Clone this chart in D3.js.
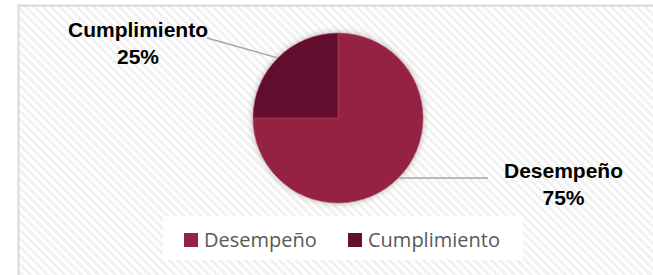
<!DOCTYPE html>
<html>
<head>
<meta charset="utf-8">
<script src="https://cdn.jsdelivr.net/npm/d3@7"></script>
<style>
  body { margin: 0; background: #fff; }
  svg { display: block; }
</style>
</head>
<body>
<script>
(function(){
  //chart data
  var categories = ["Desempeño", "Cumplimiento"];
  var values = [75, 25];
  var colors = ["#952343", "#630F2F"];

  var width = 653, height = 275;
  var cx = 338, cy = 118, radius = 85;

  var svg = d3.select("body").append("svg")
      .attr("width", width)
      .attr("height", height);

  var defs = svg.append("defs");

  //diagonal stripe background
  var pat = defs.append("pattern")
      .attr("id", "stripes")
      .attr("patternUnits", "userSpaceOnUse")
      .attr("width", 6)
      .attr("height", 6)
      .attr("patternTransform", "rotate(-45)");
  pat.append("rect").attr("width", 6).attr("height", 6).attr("fill", "#ffffff");
  pat.append("rect").attr("width", 3).attr("height", 6).attr("fill", "#f1f1f1");

  //soft shadow for the pie
  var shadow = defs.append("filter")
      .attr("id", "shadow")
      .attr("x", "-20%").attr("y", "-20%")
      .attr("width", "140%").attr("height", "140%");
  shadow.append("feGaussianBlur")
      .attr("in", "SourceAlpha")
      .attr("stdDeviation", 3)
      .attr("result", "blur");
  shadow.append("feComponentTransfer")
      .append("feFuncA").attr("type", "linear").attr("slope", 0.3);
  var merge = shadow.append("feMerge");
  merge.append("feMergeNode");
  merge.append("feMergeNode").attr("in", "SourceGraphic");

  //chart area frame
  svg.append("rect")
      .attr("x", 18.5).attr("y", 5.5)
      .attr("width", 700).attr("height", 300)
      .attr("fill", "url(#stripes)")
      .attr("stroke", "#d9d9d9")
      .attr("stroke-width", 2);

  var pie = d3.pie().sort(null).value(function(d){ return d; });
  var arcs = pie(values);

  var arc = d3.arc().innerRadius(0).outerRadius(radius);
  var edge = d3.arc().innerRadius(radius).outerRadius(radius);

  var g = svg.append("g")
      .attr("transform", "translate(" + cx + "," + cy + ")");

  g.append("g")
      .attr("filter", "url(#shadow)")
      .selectAll("path")
      .data(arcs)
      .enter()
      .append("path")
      .attr("d", arc)
      .attr("fill", function(d, i){ return colors[i]; })
      .attr("stroke", "#a8475f")
      .attr("stroke-width", 0.6);

  //leader line ends and label anchors (relative to pie centre)
  var labelPos = [
    {end: [150, 60], text: [225.5, 60]},
    {end: [-131, -80], text: [-200, -81]}
  ];

  arcs.forEach(function(d, i){
    var p = edge.centroid(d);
    g.append("line")
        .attr("x1", p[0]).attr("y1", p[1])
        .attr("x2", labelPos[i].end[0]).attr("y2", labelPos[i].end[1])
        .attr("stroke", "#a6a6a6")
        .attr("stroke-width", 1.5);

    var t = g.append("text")
        .attr("x", labelPos[i].text[0])
        .attr("y", labelPos[i].text[1])
        .attr("text-anchor", "middle")
        .attr("font-family", "'Liberation Sans', Arial, sans-serif")
        .attr("font-weight", "bold")
        .attr("font-size", "21px")
        .attr("fill", "#000");
    t.append("tspan")
        .attr("x", labelPos[i].text[0])
        .text(categories[i]);
    t.append("tspan")
        .attr("x", labelPos[i].text[0])
        .attr("dy", 27)
        .text(d3.format(".0%")(d.value / d3.sum(values)));
  });

  //legend
  var legend = svg.append("g");
  legend.append("rect")
      .attr("x", 163).attr("y", 216)
      .attr("width", 360).attr("height", 44)
      .attr("fill", "#ffffff");

  var legendX = [184, 348];
  var items = legend.selectAll(".item")
      .data(categories)
      .enter()
      .append("g")
      .attr("class", "item")
      .attr("transform", function(d, i){ return "translate(" + legendX[i] + ",233)"; });
  items.append("rect")
      .attr("width", 14).attr("height", 14)
      .attr("fill", function(d, i){ return colors[i]; });
  items.append("text")
      .attr("x", 20)
      .attr("y", 14)
      .attr("font-family", "'Open Sans', sans-serif")
      .attr("font-size", "20px")
      .attr("fill", "#595959")
      .text(function(d){ return d; });
})();
</script>
</body>
</html>
